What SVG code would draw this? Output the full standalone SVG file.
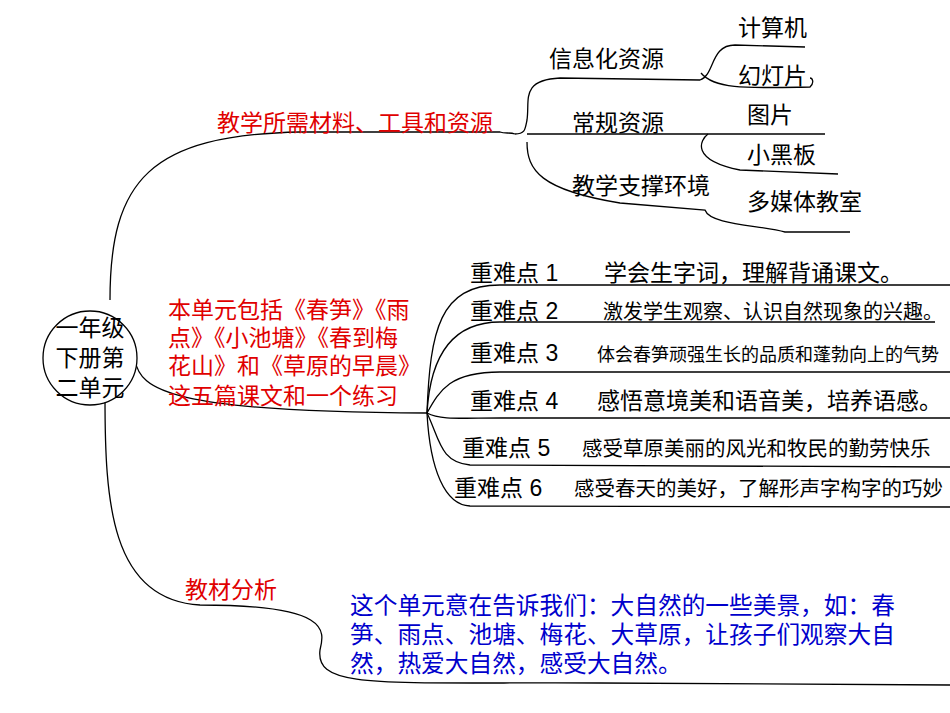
<svg xmlns="http://www.w3.org/2000/svg" width="950" height="713" viewBox="0 0 950 713">
<style>
text{font-family:"Liberation Sans","Noto Sans CJK SC",sans-serif;font-size:23px;fill:#000}
.r{fill:#e00000}.b{fill:#0000cc;font-size:23.7px}
path,line{fill:none;stroke:#000;stroke-width:1.3}
</style>
<rect width="950" height="713" fill="#fff"/>
<g id="connectors">
<path d="M110 300 C110 180 150 135 300 132 L500 132 C505 134 510 132 515 134"/>
<path d="M515 134 C525 134 525 130 527 120 C530 100 520 80 560 78 L700 80 C715 75 710 45 735 45 L805 47"/>
<path d="M701 73 C715 90 750 88 810 87 C815 82 812 78 810 78"/>
<path d="M527 134 L825 134"/>
<path d="M708 134 C700 140 690 160 740 170 L838 174"/>
<path d="M527 142 C527 170 540 190 620 203 L705 210 C710 225 760 225 785 232 L850 232"/>
<path d="M135 360 C140 390 170 412 427 413"/>
<path d="M427 413 C430 330 440 285 500 285 L950 285"/>
<path d="M427 413 C430 360 450 322 500 322 L935 322"/>
<path d="M427 413 C440 390 450 372 500 372 L950 372"/>
<path d="M427 413 C440 420 460 418 500 418 L950 418"/>
<path d="M427 413 C440 440 440 462 470 465 L950 467"/>
<path d="M427 413 C430 470 445 505 470 506 L950 507"/>
<path d="M105 398 C105 500 110 600 200 605 C330 605 325 630 320 650 C315 690 380 682 600 683 L950 685"/>
</g>
<g id="root"><circle cx="90" cy="358" r="47" fill="#fff" stroke="#000" stroke-width="1.3"/>
<text x="90" y="336" text-anchor="middle">一年级</text><text x="90" y="366" text-anchor="middle">下册第</text><text x="90" y="396" text-anchor="middle">二单元</text></g>
<g id="n-res"><text class="r" x="217" y="131">教学所需材料、工具和资源</text></g>
<g id="n-info"><text x="549" y="67">信息化资源</text></g>
<g id="n-pc"><text x="738" y="36">计算机</text></g>
<g id="n-ppt"><text x="738" y="84">幻灯片</text></g>
<g id="n-cg"><text x="572" y="131">常规资源</text></g>
<g id="n-pic"><text x="747" y="123">图片</text></g>
<g id="n-bb"><text x="747" y="163">小黑板</text></g>
<g id="n-env"><text x="572" y="194">教学支撑环境</text></g>
<g id="n-mm"><text x="747" y="210">多媒体教室</text></g>
<g id="n-unit"><text class="r" x="168" y="318">本单元包括《春笋》《雨</text><text class="r" x="168" y="346">点》《小池塘》《春到梅</text><text class="r" x="168" y="374">花山》和《草原的早晨》</text><text class="r" x="168" y="404">这五篇课文和一个练习</text></g>
<g id="k1"><text x="470" y="281">重难点 1</text><text x="604" y="281">学会生字词，理解背诵课文。</text></g>
<g id="k2"><text x="470" y="319">重难点 2</text><text x="603" y="319" style="font-size:20px">激发学生观察、认识自然现象的兴趣。</text></g>
<g id="k3"><text x="470" y="361">重难点 3</text><text x="597" y="361" style="font-size:18px">体会春笋顽强生长的品质和蓬勃向上的气势</text></g>
<g id="k4"><text x="470" y="409">重难点 4</text><text x="597" y="409">感悟意境美和语音美，培养语感。</text></g>
<g id="k5"><text x="462" y="456">重难点 5</text><text x="582" y="456" style="font-size:20.5px">感受草原美丽的风光和牧民的勤劳快乐</text></g>
<g id="k6"><text x="454" y="496">重难点 6</text><text x="574" y="496" style="font-size:20.5px">感受春天的美好，了解形声字构字的巧妙</text></g>
<g id="n-ana"><text class="r" x="185" y="598">教材分析</text></g>
<g id="n-desc"><text class="b" x="350" y="614">这个单元意在告诉我们：大自然的一些美景，如：春</text><text class="b" x="350" y="643">笋、雨点、池塘、梅花、大草原，让孩子们观察大自</text><text class="b" x="350" y="672">然，热爱大自然，感受大自然。</text></g>
</svg>
